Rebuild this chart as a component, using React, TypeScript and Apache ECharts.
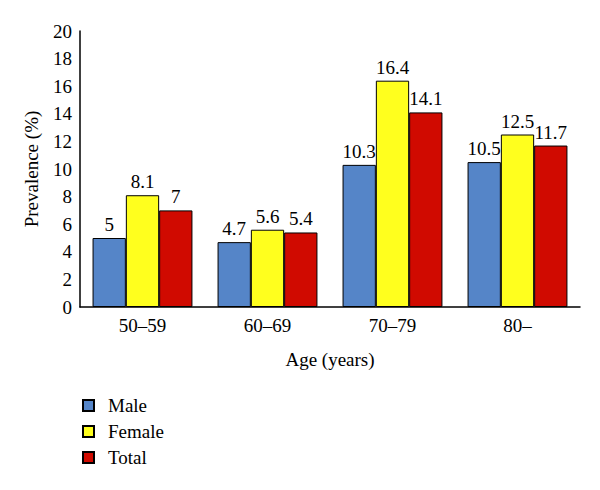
import React, { useEffect, useRef } from "react";
import * as echarts from "echarts";

const categories = ["50–59", "60–69", "70–79", "80–"];
const male = [5, 4.7, 10.3, 10.5];
const female = [8.1, 5.6, 16.4, 12.5];
const total = [7, 5.4, 14.1, 11.7];

const FONT = "Liberation Serif";

export default function App() {
  const ref = useRef<HTMLDivElement>(null);
  useEffect(() => {
    const chart = echarts.init(ref.current!, null, { renderer: "svg" });
    const label = {
      show: true,
      position: "top",
      distance: 4,
      color: "#000",
      fontFamily: FONT,
      fontSize: 19,
    };
    const mk = (name: string, data: number[], color: string) => ({
      name,
      type: "bar",
      data,
      barWidth: 33.3,
      barGap: "0%",
      itemStyle: { color, borderColor: "#000", borderWidth: 1 },
      label,
    });
    chart.setOption({
      animation: false,
      textStyle: { fontFamily: FONT },
      grid: { left: 80, right: 20, top: 31, bottom: 183, containLabel: false },
      legend: {
        orient: "vertical",
        left: 77,
        top: 391,
        icon: "rect",
        itemWidth: 11,
        itemHeight: 11,
        itemGap: 7,
        textStyle: { fontFamily: FONT, fontSize: 19, color: "#000", padding: [0, 0, 0, 9] },
        data: ["Male", "Female", "Total"],
      },
      xAxis: {
        type: "category",
        data: categories,
        axisLine: { lineStyle: { color: "#000", width: 1.5 } },
        axisTick: { show: false },
        axisLabel: { color: "#000", fontFamily: FONT, fontSize: 19, margin: 9 },
        name: "Age (years)",
        nameLocation: "middle",
        nameGap: 43,
        nameTextStyle: { color: "#000", fontFamily: FONT, fontSize: 19 },
      },
      yAxis: {
        type: "value",
        min: 0,
        max: 20,
        interval: 2,
        axisLine: { show: true, lineStyle: { color: "#000", width: 1.5 } },
        axisTick: { show: false },
        splitLine: { show: false },
        axisLabel: { color: "#000", fontFamily: FONT, fontSize: 19, margin: 8 },
        name: "Prevalence (%)",
        nameLocation: "middle",
        nameGap: 39,
        nameTextStyle: { color: "#000", fontFamily: FONT, fontSize: 19 },
      },
      series: [
        mk("Male", male, "#5585C8"),
        mk("Female", female, "#FFFF1E"),
        mk("Total", total, "#D00A00"),
      ],
    });
    return () => chart.dispose();
  }, []);
  return <div ref={ref} style={{ width: 600, height: 490, margin: -8 }} />;
}
